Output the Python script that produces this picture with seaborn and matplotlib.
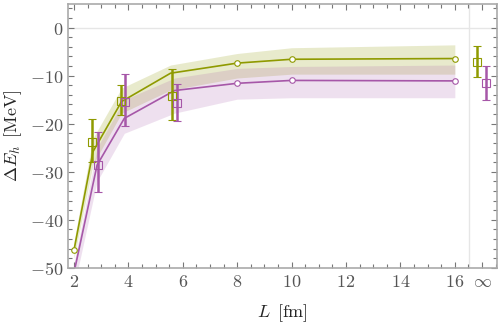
import numpy as np
import pandas as pd
import seaborn as sns
import matplotlib.pyplot as plt
from matplotlib.ticker import MultipleLocator

# curve values (theory)
green_L = [2, 2.7, 3.75, 5.55, 8, 10, 16]
green_E = [-46.3, -25.8, -15.4, -9.5, -7.4, -6.6, -6.45]
green_lo = [-48.0, -28.5, -17.8, -13.0, -10.5, -9.7, -9.7]
green_hi = [-44.5, -23.0, -12.6, -7.8, -5.4, -4.2, -3.6]

purple_L = [2, 2.85, 3.85, 5.7, 8, 10, 16]
purple_E = [-51.0, -28.6, -18.9, -13.1, -11.6, -11.0, -11.1]
purple_lo = [-54.0, -32.0, -22.0, -17.8, -14.9, -14.6, -14.6]
purple_hi = [-49.0, -25.0, -15.0, -10.5, -8.5, -8.1, -7.8]

# lattice points (last one is L = infinity)
green_lat_L = [2.66, 3.72, 5.59, 16.8]
green_lat_E = [-23.8, -15.2, -14.2, -7.2]
green_lat_lo = [-27.9, -18.2, -19.2, -10.3]
green_lat_hi = [-19.1, -11.9, -8.7, -3.8]

purple_lat_L = [2.87, 3.87, 5.8, 17.13]
purple_lat_E = [-28.5, -15.5, -15.6, -11.6]
purple_lat_lo = [-34.2, -20.5, -19.4, -15.1]
purple_lat_hi = [-21.8, -9.6, -11.7, -7.9]

xticks = [2, 4, 6, 8, 10, 12, 14, 16, 17]
xticklabels = ["2", "4", "6", "8", "10", "12", "14", "16", r"$\infty$"]
yticks = [0, -10, -20, -30, -40, -50]

olive = "#8f9a00"
purple = "#a657a8"

sns.set_style("white")
plt.rcParams["mathtext.fontset"] = "cm"
plt.rcParams["font.family"] = ["serif"]
plt.rcParams["font.serif"] = ["DejaVu Serif"]

fig = plt.figure(figsize=(4.98, 3.30), dpi=100)
ax = fig.add_axes([0.1365, 0.188, 0.8615, 0.8])

ax.axhline(0, color="#e6e6e6", lw=1, zorder=0)
ax.axvline(16.52, color="#e6e6e6", lw=1, zorder=0)

ax.fill_between(green_L, green_lo, green_hi, color=olive, alpha=0.2, lw=0)
ax.fill_between(purple_L, purple_lo, purple_hi, color=purple, alpha=0.18, lw=0)

for L, E, c in [(green_L, green_E, olive), (purple_L, purple_E, purple)]:
    df = pd.DataFrame({"L": L, "E": E})
    sns.lineplot(data=df, x="L", y="E", color=c, lw=1.2, ax=ax, sort=False)
    pts = df[(df.L >= 8) | (df.L == 2)]
    ax.scatter(pts.L, pts.E, s=16, facecolor="white", edgecolor=c, lw=0.8, zorder=4)

for L, E, lo, hi, c in [(green_lat_L, green_lat_E, green_lat_lo, green_lat_hi, olive),
                        (purple_lat_L, purple_lat_E, purple_lat_lo, purple_lat_hi, purple)]:
    E = np.array(E)
    yerr = [E - np.array(lo), np.array(hi) - E]
    ax.errorbar(L, E, yerr=yerr, fmt="s", ms=6, mfc="none", mec=c, mew=0.8,
                ecolor=c, elinewidth=1.8, capsize=3, capthick=1.8, zorder=5)

ax.set_xlim(1.78, 17.55)
ax.set_ylim(-50, 4.9)
ax.set_xticks(xticks)
ax.set_xticklabels([l if l.startswith("$") else "$" + l + "$" for l in xticklabels])
ax.set_yticks(yticks)
ax.set_yticklabels(["$%d$" % v if v == 0 else "$-%d$" % -v for v in yticks])
ax.xaxis.set_minor_locator(MultipleLocator(0.5))
ax.yaxis.set_minor_locator(MultipleLocator(2))
ax.tick_params(which="both", direction="in", bottom=True, left=True, top=True, right=True,
               color="#777777", labelcolor="#555555", labelsize=13)
ax.tick_params(which="major", length=4, width=0.8)
ax.tick_params(which="minor", length=3, width=0.8)
for s in ax.spines.values():
    s.set_color("#aaaaaa")
    s.set_linewidth(1.2)

ax.set_xlabel(r"$L\ \, [\mathrm{fm}]$", fontsize=13, labelpad=8)
ax.set_ylabel(r"$\Delta E_h\ \, [\mathrm{MeV}]$", fontsize=13, labelpad=4)

fig.savefig("out.png", dpi=100)
